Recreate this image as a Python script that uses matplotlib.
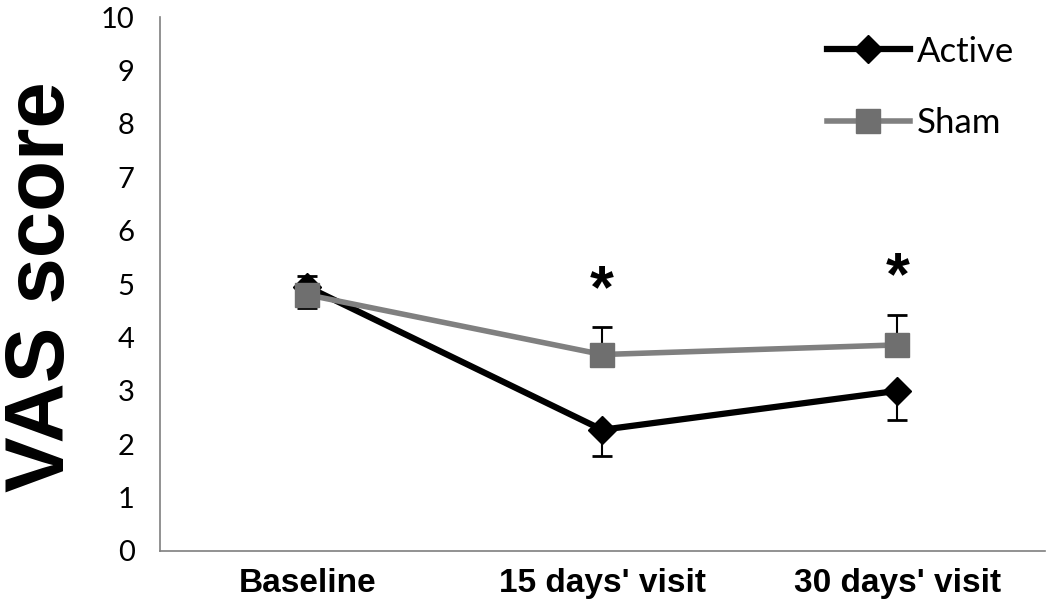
import numpy as np
import matplotlib.pyplot as plt

visits = ["Baseline", "15 days' visit", "30 days' visit"]
active = [4.95, 2.27, 3.0]
active_err_low = [0.0, 0.5, 0.55]
active_err_high = [0.2, 0.0, 0.0]
sham = [4.8, 3.68, 3.86]
sham_err_low = [0.25, 0.0, 0.0]
sham_err_high = [0.0, 0.52, 0.56]
star_pos = [(1, 4.85), (2, 5.1)]

fig = plt.figure(figsize=(10.5, 6.12), dpi=100)
ax = fig.add_axes([0.152, 0.0997, 0.843, 0.8723])

x = np.arange(len(visits))
ax.errorbar(x, active, yerr=[active_err_low, active_err_high], color="black",
            lw=4.5, marker="D", markersize=14, capsize=7, capthick=2,
            elinewidth=1.5, ecolor="black", label="Active", zorder=3)
ax.errorbar(x, sham, yerr=[sham_err_low, sham_err_high], color="#808080",
            lw=4, marker="s", markersize=17, markerfacecolor="#6f6f6f",
            markeredgecolor="#6f6f6f", capsize=7, capthick=2,
            elinewidth=1.5, ecolor="black", label="Sham", zorder=4)

for sx, sy in star_pos:
    ax.text(sx, sy, "*", ha="center", va="center", fontsize=44,
            fontweight="bold", family="Liberation Sans")

ax.set_xlim(-0.5, 2.5)
ax.set_ylim(0, 10)
ax.set_yticks(range(0, 11))
ax.set_xticks(x)
ax.set_xticklabels(visits, fontsize=24, fontweight="bold", family="Liberation Sans")
for lab in ax.get_yticklabels():
    lab.set_fontsize(21)
    lab.set_family("Lato")
ax.tick_params(axis="both", length=0)
ax.tick_params(axis="y", pad=18)
ax.tick_params(axis="x", pad=12)
for s in ["top", "right"]:
    ax.spines[s].set_visible(False)
for s in ["left", "bottom"]:
    ax.spines[s].set_color("#7f7f7f")
    ax.spines[s].set_linewidth(1.2)

fig.text(0.04, 0.532, "VAS score", rotation=90, ha="center", va="center",
         fontsize=60, fontweight="bold", family="Liberation Sans")

handles, labels = ax.get_legend_handles_labels()
handles = [h[0] for h in handles]
ax.legend(handles, labels, loc="upper left", bbox_to_anchor=(0.742, 0.985),
          frameon=False, handlelength=2.4, handletextpad=0.2,
          labelspacing=1.15, borderpad=0, borderaxespad=0.3,
          prop={"family": "Lato", "size": 25})

fig.savefig("out.png")
